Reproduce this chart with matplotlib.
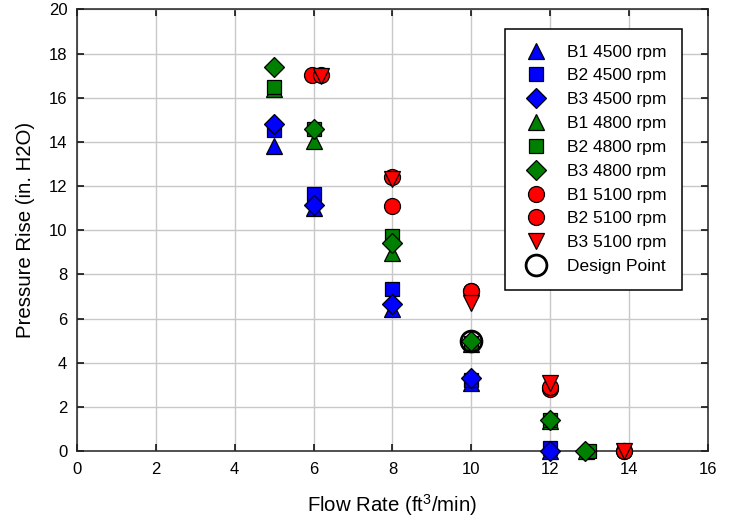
import matplotlib
matplotlib.use('Agg')
import matplotlib.pyplot as plt

# Fan curves: flow rate (ft^3/min) vs pressure rise (in. H2O)
flow_b1_4500 = [5, 6, 8, 10, 12]
pres_b1_4500 = [13.8, 11.0, 6.45, 3.08, 0.0]
flow_b2_4500 = [5, 6, 8, 10, 12]
pres_b2_4500 = [14.55, 11.65, 7.35, 3.2, 0.15]
flow_b3_4500 = [5, 6, 8, 10, 12]
pres_b3_4500 = [14.8, 11.15, 6.65, 3.3, 0.0]

flow_b1_4800 = [5, 6, 8, 10, 12, 12.9]
pres_b1_4800 = [16.4, 14.05, 8.95, 4.85, 1.35, 0.0]
flow_b2_4800 = [5, 6, 8, 10, 12, 12.98]
pres_b2_4800 = [16.5, 14.6, 9.75, 4.9, 1.4, 0.0]
flow_b3_4800 = [5, 6, 8, 10, 12, 12.88]
pres_b3_4800 = [17.4, 14.6, 9.4, 5.0, 1.4, 0.0]

flow_b1_5100 = [5.95, 8, 10, 12, 13.87]
pres_b1_5100 = [17.05, 12.4, 7.25, 2.82, 0.0]
flow_b2_5100 = [6.18, 8, 10, 12, 13.87]
pres_b2_5100 = [17.05, 11.1, 7.25, 2.92, 0.0]
flow_b3_5100 = [6.18, 8, 10, 12, 13.87]
pres_b3_5100 = [17.0, 12.3, 6.7, 3.07, 0.0]

design_flow = [10]
design_pres = [5.0]

x_ticks = [0, 2, 4, 6, 8, 10, 12, 14, 16]
y_ticks = [0, 2, 4, 6, 8, 10, 12, 14, 16, 18, 20]

plt.rcParams['font.family'] = ['Liberation Sans', 'DejaVu Sans']
plt.rcParams['mathtext.fontset'] = 'custom'
plt.rcParams['mathtext.rm'] = 'Liberation Sans'
plt.rcParams['mathtext.it'] = 'Liberation Sans:italic'

fig = plt.figure(figsize=(7.29, 5.25), dpi=100)
ax = fig.add_axes([0.1056, 0.141, 0.8656, 0.841])

series = [
    (flow_b1_4500, pres_b1_4500, '^', 'blue', 11.5, 'B1 4500 rpm'),
    (flow_b2_4500, pres_b2_4500, 's', 'blue', 10.3, 'B2 4500 rpm'),
    (flow_b3_4500, pres_b3_4500, 'D', 'blue', 9.8, 'B3 4500 rpm'),
    (flow_b1_4800, pres_b1_4800, '^', 'green', 11.5, 'B1 4800 rpm'),
    (flow_b2_4800, pres_b2_4800, 's', 'green', 10.3, 'B2 4800 rpm'),
    (flow_b3_4800, pres_b3_4800, 'D', 'green', 9.8, 'B3 4800 rpm'),
    (flow_b1_5100, pres_b1_5100, 'o', 'red', 11.5, 'B1 5100 rpm'),
    (flow_b2_5100, pres_b2_5100, 'o', 'red', 11.5, 'B2 5100 rpm'),
    (flow_b3_5100, pres_b3_5100, 'v', 'red', 11.5, 'B3 5100 rpm'),
]
for fx, py, mk, col, ms, lab in series:
    ax.plot(fx, py, linestyle='none', marker=mk, markersize=ms,
            markerfacecolor=col, markeredgecolor='black', markeredgewidth=0.9,
            label=lab, clip_on=False, zorder=3)

ax.plot(design_flow, design_pres, linestyle='none', marker='o', markersize=15,
        markerfacecolor='none', markeredgecolor='black', markeredgewidth=2,
        label='Design Point', zorder=4)

ax.set_xlim(0, 16)
ax.set_ylim(0, 20)
ax.set_xticks(x_ticks)
ax.set_yticks(y_ticks)
ax.grid(True, color='#c8c8c8', linewidth=1)
ax.set_axisbelow(True)
for sp in ax.spines.values():
    sp.set_linewidth(1.1)
    sp.set_color('#222222')
ax.tick_params(direction='in', top=True, right=True, length=5, width=1.1,
               labelsize=12)
ax.tick_params(axis='x', pad=8)
ax.tick_params(axis='y', pad=7)

ax.set_xlabel(r'Flow Rate (ft$^3$/min)', fontsize=14.7, labelpad=11)
ax.set_ylabel('Pressure Rise (in. H2O)', fontsize=14.7, labelpad=10)

leg = ax.legend(loc='upper right', bbox_to_anchor=(0.959, 0.956), fontsize=12.5,
                frameon=True, fancybox=False, edgecolor='black',
                framealpha=1, handletextpad=0.86, labelspacing=0.5,
                borderpad=0.9, handlelength=1.8, borderaxespad=0)
leg.get_frame().set_linewidth(1.1)

fig.savefig('out.png', dpi=100)
